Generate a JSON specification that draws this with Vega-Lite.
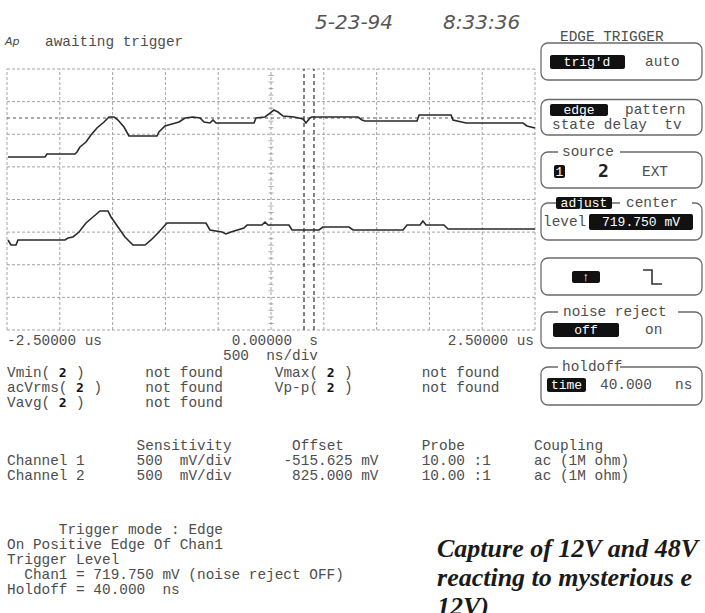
{
  "$schema": "https://vega.github.io/schema/vega-lite/v6.json",
  "width": 705,
  "height": 613,
  "autosize": {"type": "none"},
  "padding": 0,
  "background": "white",
  "config": {"view": {"stroke": null}},
  "datasets": {
    "gridV": [
      {"x": -2.5, "y": -4, "y2": 4}, {"x": -2, "y": -4, "y2": 4}, {"x": -1.5, "y": -4, "y2": 4},
      {"x": -1, "y": -4, "y2": 4}, {"x": -0.5, "y": -4, "y2": 4}, {"x": 0, "y": -4, "y2": 4},
      {"x": 0.5, "y": -4, "y2": 4}, {"x": 1, "y": -4, "y2": 4}, {"x": 1.5, "y": -4, "y2": 4},
      {"x": 2, "y": -4, "y2": 4}, {"x": 2.5, "y": -4, "y2": 4}
    ],
    "gridH": [
      {"x": -2.5, "x2": 2.5, "y": -4}, {"x": -2.5, "x2": 2.5, "y": -3}, {"x": -2.5, "x2": 2.5, "y": -2},
      {"x": -2.5, "x2": 2.5, "y": -1}, {"x": -2.5, "x2": 2.5, "y": 0}, {"x": -2.5, "x2": 2.5, "y": 1},
      {"x": -2.5, "x2": 2.5, "y": 2}, {"x": -2.5, "x2": 2.5, "y": 3}, {"x": -2.5, "x2": 2.5, "y": 4}
    ],
    "ticks": [
      {"x": 0, "y": -3.8}, {"x": 0, "y": -3.6}, {"x": 0, "y": -3.4}, {"x": 0, "y": -3.2}, {"x": 0, "y": -2.8},
      {"x": 0, "y": -2.6}, {"x": 0, "y": -2.4}, {"x": 0, "y": -2.2}, {"x": 0, "y": -1.8}, {"x": 0, "y": -1.6},
      {"x": 0, "y": -1.4}, {"x": 0, "y": -1.2}, {"x": 0, "y": -0.8}, {"x": 0, "y": -0.6}, {"x": 0, "y": -0.4},
      {"x": 0, "y": -0.2}, {"x": 0, "y": 0.2}, {"x": 0, "y": 0.4}, {"x": 0, "y": 0.6}, {"x": 0, "y": 0.8},
      {"x": 0, "y": 1.2}, {"x": 0, "y": 1.4}, {"x": 0, "y": 1.6}, {"x": 0, "y": 1.8}, {"x": 0, "y": 2.2},
      {"x": 0, "y": 2.4}, {"x": 0, "y": 2.6}, {"x": 0, "y": 2.8}, {"x": 0, "y": 3.2}, {"x": 0, "y": 3.4},
      {"x": 0, "y": 3.6}, {"x": 0, "y": 3.8}
    ],
    "trigLines": [
      {"x": 0.3125, "y": -4, "y2": 4},
      {"x": 0.407, "y": -4, "y2": 4}
    ],
    "trigLevel": [
      {"x": -2.5, "x2": 2.5, "y": 2.498}
    ],
    "traces": [
      {"trace": "Channel 1", "x": -2.4905, "y": 1.303}, {"trace": "Channel 1", "x": -2.14, "y": 1.303},
      {"trace": "Channel 1", "x": -2.121, "y": 1.395}, {"trace": "Channel 1", "x": -1.856, "y": 1.395},
      {"trace": "Channel 1", "x": -1.837, "y": 1.456}, {"trace": "Channel 1", "x": -1.809, "y": 1.609},
      {"trace": "Channel 1", "x": -1.752, "y": 1.762}, {"trace": "Channel 1", "x": -1.705, "y": 1.977},
      {"trace": "Channel 1", "x": -1.648, "y": 2.192}, {"trace": "Channel 1", "x": -1.581, "y": 2.375},
      {"trace": "Channel 1", "x": -1.534, "y": 2.529}, {"trace": "Channel 1", "x": -1.487, "y": 2.529},
      {"trace": "Channel 1", "x": -1.449, "y": 2.437}, {"trace": "Channel 1", "x": -1.392, "y": 2.222},
      {"trace": "Channel 1", "x": -1.345, "y": 1.946}, {"trace": "Channel 1", "x": -1.08, "y": 1.946},
      {"trace": "Channel 1", "x": -1.061, "y": 2.069}, {"trace": "Channel 1", "x": -1.004, "y": 2.253},
      {"trace": "Channel 1", "x": -0.938, "y": 2.314}, {"trace": "Channel 1", "x": -0.871, "y": 2.375},
      {"trace": "Channel 1", "x": -0.814, "y": 2.498}, {"trace": "Channel 1", "x": -0.739, "y": 2.529},
      {"trace": "Channel 1", "x": -0.672, "y": 2.498}, {"trace": "Channel 1", "x": -0.634, "y": 2.375},
      {"trace": "Channel 1", "x": -0.578, "y": 2.345}, {"trace": "Channel 1", "x": -0.549, "y": 2.437},
      {"trace": "Channel 1", "x": -0.521, "y": 2.345}, {"trace": "Channel 1", "x": -0.161, "y": 2.345},
      {"trace": "Channel 1", "x": -0.142, "y": 2.498}, {"trace": "Channel 1", "x": -0.057, "y": 2.529},
      {"trace": "Channel 1", "x": -0.01, "y": 2.651}, {"trace": "Channel 1", "x": 0.028, "y": 2.743},
      {"trace": "Channel 1", "x": 0.066, "y": 2.682}, {"trace": "Channel 1", "x": 0.114, "y": 2.559},
      {"trace": "Channel 1", "x": 0.218, "y": 2.529}, {"trace": "Channel 1", "x": 0.303, "y": 2.467},
      {"trace": "Channel 1", "x": 0.331, "y": 2.345}, {"trace": "Channel 1", "x": 0.369, "y": 2.498},
      {"trace": "Channel 1", "x": 0.388, "y": 2.529}, {"trace": "Channel 1", "x": 0.824, "y": 2.529},
      {"trace": "Channel 1", "x": 0.862, "y": 2.437}, {"trace": "Channel 1", "x": 0.89, "y": 2.406},
      {"trace": "Channel 1", "x": 1.383, "y": 2.406}, {"trace": "Channel 1", "x": 1.402, "y": 2.59},
      {"trace": "Channel 1", "x": 1.705, "y": 2.59}, {"trace": "Channel 1", "x": 1.723, "y": 2.437},
      {"trace": "Channel 1", "x": 1.847, "y": 2.345}, {"trace": "Channel 1", "x": 2.386, "y": 2.345},
      {"trace": "Channel 1", "x": 2.424, "y": 2.253}, {"trace": "Channel 1", "x": 2.5, "y": 2.192},
      {"trace": "Channel 2", "x": -2.4905, "y": -1.241}, {"trace": "Channel 2", "x": -2.462, "y": -1.395},
      {"trace": "Channel 2", "x": -2.415, "y": -1.395}, {"trace": "Channel 2", "x": -2.396, "y": -1.241},
      {"trace": "Channel 2", "x": -1.951, "y": -1.241}, {"trace": "Channel 2", "x": -1.922, "y": -1.18},
      {"trace": "Channel 2", "x": -1.875, "y": -1.149}, {"trace": "Channel 2", "x": -1.818, "y": -0.996},
      {"trace": "Channel 2", "x": -1.752, "y": -0.72}, {"trace": "Channel 2", "x": -1.686, "y": -0.536},
      {"trace": "Channel 2", "x": -1.619, "y": -0.352}, {"trace": "Channel 2", "x": -1.544, "y": -0.352},
      {"trace": "Channel 2", "x": -1.515, "y": -0.536}, {"trace": "Channel 2", "x": -1.449, "y": -0.843},
      {"trace": "Channel 2", "x": -1.383, "y": -1.149}, {"trace": "Channel 2", "x": -1.307, "y": -1.395},
      {"trace": "Channel 2", "x": -1.193, "y": -1.395}, {"trace": "Channel 2", "x": -1.136, "y": -1.241},
      {"trace": "Channel 2", "x": -1.07, "y": -1.027}, {"trace": "Channel 2", "x": -0.985, "y": -0.72},
      {"trace": "Channel 2", "x": -0.616, "y": -0.72}, {"trace": "Channel 2", "x": -0.578, "y": -0.935},
      {"trace": "Channel 2", "x": -0.464, "y": -0.996}, {"trace": "Channel 2", "x": -0.426, "y": -1.057},
      {"trace": "Channel 2", "x": -0.379, "y": -0.996}, {"trace": "Channel 2", "x": -0.256, "y": -0.874},
      {"trace": "Channel 2", "x": -0.227, "y": -0.782}, {"trace": "Channel 2", "x": -0.085, "y": -0.782},
      {"trace": "Channel 2", "x": -0.057, "y": -0.69}, {"trace": "Channel 2", "x": -0.028, "y": -0.782},
      {"trace": "Channel 2", "x": 0.17, "y": -0.782}, {"trace": "Channel 2", "x": 0.199, "y": -0.935},
      {"trace": "Channel 2", "x": 0.455, "y": -0.935}, {"trace": "Channel 2", "x": 0.492, "y": -0.843},
      {"trace": "Channel 2", "x": 0.739, "y": -0.843}, {"trace": "Channel 2", "x": 0.777, "y": -0.935},
      {"trace": "Channel 2", "x": 1.25, "y": -0.935}, {"trace": "Channel 2", "x": 1.288, "y": -0.782},
      {"trace": "Channel 2", "x": 1.411, "y": -0.782}, {"trace": "Channel 2", "x": 1.439, "y": -0.659},
      {"trace": "Channel 2", "x": 1.468, "y": -0.782}, {"trace": "Channel 2", "x": 1.638, "y": -0.782},
      {"trace": "Channel 2", "x": 1.676, "y": -0.904}, {"trace": "Channel 2", "x": 2.5, "y": -0.904}
    ],
    "boxes": [
      {"x": 2.5568, "x2": 4.0814, "y": 4.7969, "y2": 3.6628},
      {"x": 2.5568, "x2": 4.0814, "y": 3.0651, "y2": 1.977},
      {"x": 2.5568, "x2": 4.0814, "y": 1.4559, "y2": 0.3525},
      {"x": 2.5568, "x2": 4.0814, "y": -0.1073, "y2": -1.2414},
      {"x": 2.5568, "x2": 4.0814, "y": -1.7931, "y2": -2.9272},
      {"x": 2.5568, "x2": 4.0814, "y": -3.4483, "y2": -4.5517},
      {"x": 2.5568, "x2": 4.0814, "y": -5.1341, "y2": -6.2989}
    ],
    "titleBg": [
      {"x": 2.7178, "x2": 3.3049, "y": 1.6092, "y2": 1.3027},
      {"x": 3.3049, "x2": 3.9867, "y": 0.046, "y2": -0.2605},
      {"x": 2.7178, "x2": 3.8542, "y": -3.295, "y2": -3.6015},
      {"x": 2.7178, "x2": 3.3049, "y": -4.9808, "y2": -5.2874}
    ],
    "keys": [
      {"x": 2.642, "x2": 3.3523, "y": 4.4291, "y2": 4.0},
      {"x": 2.642, "x2": 3.1913, "y": 2.9272, "y2": 2.5594},
      {"x": 2.6799, "x2": 2.7841, "y": 1.0575, "y2": 0.659},
      {"x": 2.6989, "x2": 3.2292, "y": 0.0766, "y2": -0.2912},
      {"x": 3.0114, "x2": 3.9962, "y": -0.4444, "y2": -0.9349},
      {"x": 2.8504, "x2": 3.1155, "y": -2.1916, "y2": -2.5594},
      {"x": 2.6705, "x2": 3.2955, "y": -3.7854, "y2": -4.2146},
      {"x": 2.6136, "x2": 2.983, "y": -5.4713, "y2": -5.9004}
    ],
    "keyText": [
      {"x": 2.9924, "y": 4.2146, "label": "trig'd"},
      {"x": 2.9167, "y": 2.7433, "label": "edge"},
      {"x": 2.732, "y": 0.8429, "label": "1"},
      {"x": 2.964, "y": -0.1073, "label": "adjust"},
      {"x": 3.5038, "y": -0.6897, "label": "719.750 mV"},
      {"x": 2.983, "y": -2.3755, "label": "↑"},
      {"x": 2.983, "y": -4.0, "label": "off"},
      {"x": 2.7983, "y": -5.6858, "label": "time"}
    ],
    "edgeIcon": [
      {"k": 1, "x": 3.5227, "y": -2.1609},
      {"k": 2, "x": 3.608, "y": -2.1609},
      {"k": 3, "x": 3.608, "y": -2.59},
      {"k": 4, "x": 3.7027, "y": -2.59}
    ],
    "mono": [
      {"x": -2.1402, "y": 4.8276, "label": "awaiting trigger"},
      {"x": 2.7367, "y": 4.9808, "label": "EDGE TRIGGER"},
      {"x": 3.5417, "y": 4.2146, "label": "auto"},
      {"x": 3.3523, "y": 2.7433, "label": "pattern"},
      {"x": 2.661, "y": 2.2835, "label": "state delay\u00a0\u00a0tv"},
      {"x": 2.7557, "y": 1.4559, "label": "source"},
      {"x": 3.5133, "y": 0.8429, "label": "EXT"},
      {"x": 3.3617, "y": -0.1073, "label": "center"},
      {"x": 2.5758, "y": -0.6897, "label": "level"},
      {"x": 2.7652, "y": -3.4483, "label": "noise reject"},
      {"x": 3.5417, "y": -4.0, "label": "on"},
      {"x": 2.7557, "y": -5.1341, "label": "holdoff"},
      {"x": 3.1155, "y": -5.6858, "label": "40.000"},
      {"x": 3.8258, "y": -5.6858, "label": "ns"},
      {"x": -2.5, "y": -4.3372, "label": "-2.50000 us"},
      {"x": -0.3727, "y": -4.3372, "label": "0.00000\u00a0\u00a0s"},
      {"x": -0.4545, "y": -4.7969, "label": "500\u00a0\u00a0ns/div"},
      {"x": 1.6727, "y": -4.3372, "label": "2.50000 us"},
      {"x": -2.5, "y": -5.318, "label": "Vmin("},
      {"x": -1.8455, "y": -5.318, "label": ")"},
      {"x": -2.5, "y": -5.7778, "label": "acVrms("},
      {"x": -1.6818, "y": -5.7778, "label": ")"},
      {"x": -2.5, "y": -6.2375, "label": "Vavg("},
      {"x": -1.8455, "y": -6.2375, "label": ")"},
      {"x": -1.1909, "y": -5.318, "label": "not found"},
      {"x": -1.1909, "y": -5.7778, "label": "not found"},
      {"x": -1.1909, "y": -6.2375, "label": "not found"},
      {"x": 0.0364, "y": -5.318, "label": "Vmax("},
      {"x": 0.6909, "y": -5.318, "label": ")"},
      {"x": 0.0364, "y": -5.7778, "label": "Vp-p("},
      {"x": 0.6909, "y": -5.7778, "label": ")"},
      {"x": 1.4273, "y": -5.318, "label": "not found"},
      {"x": 1.4273, "y": -5.7778, "label": "not found"},
      {"x": -1.2727, "y": -7.5556, "label": "Sensitivity"},
      {"x": 0.2, "y": -7.5556, "label": "Offset"},
      {"x": 1.4273, "y": -7.5556, "label": "Probe"},
      {"x": 2.4909, "y": -7.5556, "label": "Coupling"},
      {"x": -2.5, "y": -8.0153, "label": "Channel 1"},
      {"x": -1.2727, "y": -8.0153, "label": "500\u00a0\u00a0mV/div"},
      {"x": 0.1182, "y": -8.0153, "label": "-515.625 mV"},
      {"x": 1.4273, "y": -8.0153, "label": "10.00 :1"},
      {"x": 2.4909, "y": -8.0153, "label": "ac (1M ohm)"},
      {"x": -2.5, "y": -8.4751, "label": "Channel 2"},
      {"x": -1.2727, "y": -8.4751, "label": "500\u00a0\u00a0mV/div"},
      {"x": 0.2, "y": -8.4751, "label": "825.000 mV"},
      {"x": 1.4273, "y": -8.4751, "label": "10.00 :1"},
      {"x": 2.4909, "y": -8.4751, "label": "ac (1M ohm)"},
      {"x": -2.0091, "y": -10.1303, "label": "Trigger mode : Edge"},
      {"x": -2.5, "y": -10.59, "label": "On Positive Edge Of Chan1"},
      {"x": -2.5, "y": -11.0498, "label": "Trigger Level"},
      {"x": -2.3364, "y": -11.5096, "label": "Chan1 = 719.750 mV (noise reject OFF)"},
      {"x": -2.5, "y": -11.9693, "label": "Holdoff = 40.000\u00a0\u00a0ns"}
    ],
    "boldTwo": [
      {"x": -2.0091, "y": -5.318, "label": "2"},
      {"x": -1.8455, "y": -5.7778, "label": "2"},
      {"x": -2.0091, "y": -6.2375, "label": "2"},
      {"x": 0.5273, "y": -5.318, "label": "2"},
      {"x": 0.5273, "y": -5.7778, "label": "2"}
    ],
    "sourceTwo": [
      {"x": 3.0966, "y": 0.8429, "label": "2"}
    ],
    "stamp": [
      {"x": 0.4167, "y": 5.41, "label": "5-23-94"},
      {"x": 1.6288, "y": 5.41, "label": "8:33:36"}
    ],
    "apLabel": [
      {"x": -2.5189, "y": 4.8276, "label": "Ap"}
    ],
    "caption": [
      {"x": 1.572, "y": -10.9579, "label": "Capture of 12V and 48V"},
      {"x": 1.572, "y": -11.8467, "label": "reacting to mysterious e"},
      {"x": 1.572, "y": -12.7356, "label": "12V)"}
    ]
  },
  "encoding": {
    "x": {"field": "x", "type": "quantitative", "scale": {"domain": [-2.5663, 4.1098], "nice": false, "zero": false}, "axis": null},
    "y": {"field": "y", "type": "quantitative", "scale": {"domain": [-12.6743, 6.1149], "nice": false, "zero": false}, "axis": null}
  },
  "layer": [
    {"data": {"name": "gridV"}, "mark": {"type": "rule", "color": "#a3a3a3", "strokeWidth": 1, "strokeDash": [3, 2]}, "encoding": {"y2": {"field": "y2"}}},
    {"data": {"name": "gridH"}, "mark": {"type": "rule", "color": "#a3a3a3", "strokeWidth": 1, "strokeDash": [3, 2]}, "encoding": {"x2": {"field": "x2"}}},
    {"data": {"name": "ticks"}, "mark": {"type": "tick", "orient": "horizontal", "color": "#8a8a8a", "size": 5, "thickness": 1}},
    {"data": {"name": "trigLines"}, "mark": {"type": "rule", "color": "#333", "strokeWidth": 1.2, "strokeDash": [4, 3]}, "encoding": {"y2": {"field": "y2"}}},
    {"data": {"name": "trigLevel"}, "mark": {"type": "rule", "color": "#555", "strokeWidth": 1.2, "strokeDash": [3, 3]}, "encoding": {"x2": {"field": "x2"}}},
    {"data": {"name": "traces"}, "mark": {"type": "line", "color": "#2a2a2a", "strokeWidth": 1.6, "interpolate": "linear"}, "encoding": {"detail": {"field": "trace", "type": "nominal"}}},
    {"data": {"name": "boxes"}, "mark": {"type": "rect", "fill": "white", "stroke": "#6a6a6a", "strokeWidth": 1.3, "cornerRadius": 7}, "encoding": {"x2": {"field": "x2"}, "y2": {"field": "y2"}}},
    {"data": {"name": "titleBg"}, "mark": {"type": "rect", "fill": "white"}, "encoding": {"x2": {"field": "x2"}, "y2": {"field": "y2"}}},
    {"data": {"name": "keys"}, "mark": {"type": "rect", "fill": "#111", "cornerRadius": 2}, "encoding": {"x2": {"field": "x2"}, "y2": {"field": "y2"}}},
    {"data": {"name": "keyText"}, "mark": {"type": "text", "font": "Liberation Mono", "fontSize": 13, "color": "white", "align": "center", "baseline": "middle"}, "encoding": {"text": {"field": "label"}}},
    {"data": {"name": "edgeIcon"}, "mark": {"type": "line", "color": "#333", "strokeWidth": 1.6}, "encoding": {"order": {"field": "k"}}},
    {"data": {"name": "mono"}, "mark": {"type": "text", "font": "Liberation Mono", "fontSize": 14.4, "color": "#4d4d4d", "align": "left", "baseline": "middle"}, "encoding": {"text": {"field": "label"}}},
    {"data": {"name": "boldTwo"}, "mark": {"type": "text", "font": "DejaVu Sans Mono", "fontSize": 13, "fontWeight": "bold", "color": "#111", "align": "left", "baseline": "middle"}, "encoding": {"text": {"field": "label"}}},
    {"data": {"name": "sourceTwo"}, "mark": {"type": "text", "font": "DejaVu Sans Mono", "fontSize": 18, "fontWeight": "bold", "color": "#222", "align": "left", "baseline": "middle"}, "encoding": {"text": {"field": "label"}}},
    {"data": {"name": "stamp"}, "mark": {"type": "text", "font": "DejaVu Sans", "fontSize": 20, "fontStyle": "italic", "color": "#555", "align": "left", "baseline": "middle"}, "encoding": {"text": {"field": "label"}}},
    {"data": {"name": "apLabel"}, "mark": {"type": "text", "font": "DejaVu Sans", "fontSize": 11, "fontStyle": "italic", "color": "#444", "align": "left", "baseline": "middle"}, "encoding": {"text": {"field": "label"}}},
    {"data": {"name": "caption"}, "mark": {"type": "text", "font": "Liberation Serif", "fontSize": 26, "fontWeight": "bold", "fontStyle": "italic", "color": "#1a1a1a", "align": "left", "baseline": "alphabetic"}, "encoding": {"text": {"field": "label"}}}
  ]
}
